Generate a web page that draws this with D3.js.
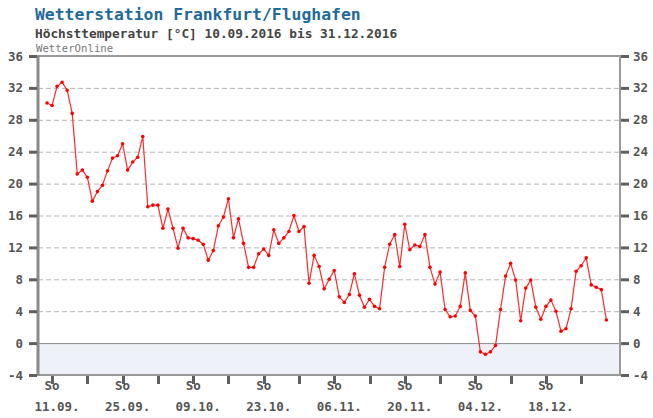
<!DOCTYPE html>
<head>
  <meta charset="utf-8">
  <title>Wetterstation Frankfurt/Flughafen</title>
  <script src="https://d3js.org/d3.v7.min.js"></script>
  <style>
    body { margin: 0; background: #fff; }
    text { font-family: "DejaVu Sans Mono", monospace; }
  </style>
</head>
<body>
  <div id="root"></div>
  <script>
    // daily max temperature, first value = 10.09.2016
    var startDate = new Date(2016, 8, 10);
    var tmax = [
      30.1, 29.8, 32.2, 32.7, 31.7, 28.8, 21.2, 21.7, 20.8, 17.8,
      19.0, 19.8, 21.6, 23.2, 23.5, 25.0, 21.7, 22.7, 23.3, 25.9,
      17.1, 17.3, 17.3, 14.4, 16.8, 14.4, 11.9, 14.4, 13.2, 13.1,
      12.9, 12.4, 10.4, 11.6, 14.7, 15.8, 18.1, 13.2, 15.6, 12.5,
      9.5, 9.5, 11.2, 11.8, 11.0, 14.2, 12.5, 13.2, 14.0, 16.0,
      14.0, 14.6, 7.5, 11.0, 9.6, 6.8, 8.0, 9.1, 5.8, 5.1,
      6.1, 8.7, 6.0, 4.5, 5.5, 4.6, 4.3, 9.5, 12.4, 13.6,
      9.6, 14.9, 11.7, 12.3, 12.1, 13.6, 9.5, 7.4, 8.9, 4.2,
      3.3, 3.4, 4.6, 8.8, 4.1, 3.4, -1.1, -1.4, -1.1, -0.3,
      4.2, 8.4, 10.0, 7.9, 2.8, 6.9, 7.9, 4.5, 3.0, 4.6,
      5.4, 4.0, 1.5, 1.8, 4.3, 9.0, 9.7, 10.7, 7.3, 7.0,
      6.7, 2.9
    ];
    var yTicks = [-4, 0, 4, 8, 12, 16, 20, 24, 28, 32, 36];
    var xLabelDates = ["11.09.", "25.09.", "09.10.", "23.10.", "06.11.", "20.11.", "04.12.", "18.12."];

    var data = tmax.map(function(v, i) {
      return { date: d3.timeDay.offset(startDate, i), value: v };
    });

    var W = 653, H = 418;
    var pLeft = 38, pRight = 620, pTop = 56, pBottom = 375;

    var svg = d3.select("#root").append("svg")
      .attr("width", W).attr("height", H);

    // titles
    svg.append("text").attr("x", 35).attr("y", 20)
      .style("font-size", "16.4px").style("font-weight", "bold").style("fill", "#1f6a98")
      .text("Wetterstation Frankfurt/Flughafen");
    svg.append("text").attr("x", 35).attr("y", 38)
      .style("font-size", "12.8px").style("font-weight", "bold").style("fill", "#444")
      .text("Höchsttemperatur [°C] 10.09.2016 bis 31.12.2016");
    svg.append("text").attr("x", 36).attr("y", 52)
      .style("font-size", "10.7px").style("fill", "#777")
      .text("WetterOnline");

    var x = d3.scaleTime()
      .domain([new Date(2016, 8, 8, 5), new Date(2017, 0, 1, 17)])
      .range([pLeft, pRight]);
    var y = d3.scaleLinear().domain([-4, 36]).range([pBottom, pTop]);

    // below-zero band
    svg.append("rect")
      .attr("x", pLeft).attr("y", y(0))
      .attr("width", pRight - pLeft).attr("height", y(-4) - y(0))
      .style("fill", "#eef2f8");

    // grid
    svg.append("g").selectAll("line")
      .data(yTicks.filter(function(t) { return t !== 0 && t !== -4; }))
      .enter().append("line")
        .attr("x1", pLeft).attr("x2", pRight)
        .attr("y1", function(d) { return y(d) + 0.5; })
        .attr("y2", function(d) { return y(d) + 0.5; })
        .style("stroke", "#b4b4b4").style("stroke-dasharray", "5,3");

    svg.append("line")
      .attr("x1", pLeft).attr("x2", pRight)
      .attr("y1", y(0) + 0.5).attr("y2", y(0) + 0.5)
      .style("stroke", "#8c8c8c");

    // frame
    svg.append("rect")
      .attr("x", pLeft).attr("y", pTop)
      .attr("width", pRight - pLeft).attr("height", pBottom - pTop)
      .style("fill", "none").style("stroke", "#9a9a9a").style("stroke-width", 2);
    svg.append("line")
      .attr("x1", pLeft).attr("x2", pLeft).attr("y1", pTop).attr("y2", pBottom + 1)
      .style("stroke", "#8a8a8a").style("stroke-width", 3);

    // y axis ticks + labels both sides
    var yAxis = svg.append("g");
    yTicks.forEach(function(t) {
      yAxis.append("line").attr("x1", 29).attr("x2", 37)
        .attr("y1", y(t) + 0.5).attr("y2", y(t) + 0.5)
        .style("stroke", "#5f5f5f").style("stroke-width", 3);
      yAxis.append("line").attr("x1", 621).attr("x2", 629)
        .attr("y1", y(t) + 0.5).attr("y2", y(t) + 0.5)
        .style("stroke", "#5f5f5f").style("stroke-width", 3);
      yAxis.append("text").attr("x", 23).attr("y", y(t) + 4.5)
        .attr("text-anchor", "end")
        .style("font-size", "12.5px").style("font-weight", "bold").style("fill", "#555")
        .text(t);
      yAxis.append("text").attr("x", 633).attr("y", y(t) + 4.5)
        .style("font-size", "12.5px").style("font-weight", "bold").style("fill", "#555")
        .text(t);
    });

    // x axis: weekly ticks on Sundays, labels every 2 weeks
    var sundays = d3.timeSunday.range(new Date(2016, 8, 11), new Date(2016, 11, 31));
    svg.append("g").selectAll("line")
      .data(sundays).enter().append("line")
        .attr("x1", function(d) { return Math.round(x(d)) + 0.5; })
        .attr("x2", function(d) { return Math.round(x(d)) + 0.5; })
        .attr("y1", pBottom + 1).attr("y2", pBottom + 9)
        .style("stroke", "#5f5f5f").style("stroke-width", 3);

    var labelDays = sundays.filter(function(d, i) { return i % 2 === 0; });
    var xl = svg.append("g");
    labelDays.forEach(function(d, i) {
      xl.append("text").attr("x", x(d)).attr("y", 390)
        .attr("text-anchor", "middle")
        .style("font-size", "12.5px").style("font-weight", "bold").style("fill", "#555")
        .text("So");
      xl.append("text").attr("x", x(d) + 5).attr("y", 411)
        .attr("text-anchor", "middle")
        .style("font-size", "12.5px").style("font-weight", "bold").style("fill", "#555")
        .text(xLabelDates[i]);
    });

    // temperature line
    var line = d3.line()
      .x(function(d) { return x(d.date); })
      .y(function(d) { return y(d.value); });
    svg.append("path").datum(data)
      .attr("d", line)
      .style("fill", "none").style("stroke", "#ff2a2a").style("stroke-width", 1.2);
    svg.append("g").selectAll("circle")
      .data(data).enter().append("circle")
        .attr("cx", function(d) { return x(d.date); })
        .attr("cy", function(d) { return y(d.value); })
        .attr("r", 1.8)
        .style("fill", "#ff0000");
  </script>
</body>
